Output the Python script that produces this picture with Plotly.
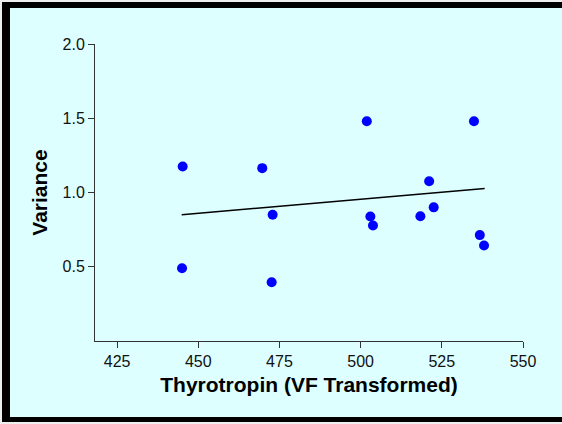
import plotly.graph_objects as go

# Data
thyrotropin = [445.2, 469.7, 472.9, 445.0, 472.6, 501.9, 534.9, 521.1,
               503.0, 503.8, 518.4, 522.5, 536.7, 538.0]
variance = [1.175, 1.164, 0.85, 0.49, 0.396, 1.48, 1.48, 1.076,
            0.838, 0.778, 0.84, 0.90, 0.713, 0.643]
fit_x = [444.9, 538.2]
fit_y = [0.85, 1.027]
x_ticks = [425, 450, 475, 500, 525, 550]
y_ticks = [0.5, 1.0, 1.5, 2.0]
y_tick_labels = ["0.5", "1.0", "1.5", "2.0"]

W, H = 562, 424
L, R, T, B = 95, 39, 44, 83
PW, PH = W - L - R, H - T - B


def px(x):
    return (x - L) / PW


def py(y):
    return 1 - (y - T) / PH


BG = "#ddffff"
FONT = "Liberation Sans, Arial, sans-serif"

fig = go.Figure()
fig.add_trace(go.Scatter(x=fit_x, y=fit_y, mode="lines",
                         line=dict(color="black", width=1.5),
                         showlegend=False, hoverinfo="skip"))
fig.add_trace(go.Scatter(x=thyrotropin, y=variance, mode="markers",
                         marker=dict(color="#0000ff", size=10, line=dict(width=0)),
                         showlegend=False))

shapes = []
# outer light strips
shapes.append(dict(type="rect", xref="paper", yref="paper", x0=px(0), x1=px(W), y0=py(0), y1=py(2),
                   fillcolor="#eeeeee", line=dict(width=0), layer="below"))
shapes.append(dict(type="rect", xref="paper", yref="paper", x0=px(0), x1=px(2), y0=py(0), y1=py(H),
                   fillcolor="#eeeeee", line=dict(width=0), layer="below"))
shapes.append(dict(type="rect", xref="paper", yref="paper", x0=px(0), x1=px(W), y0=py(422), y1=py(H),
                   fillcolor="#eeeeee", line=dict(width=0), layer="below"))
# black frame (left, top, bottom)
shapes.append(dict(type="rect", xref="paper", yref="paper", x0=px(2), x1=px(W), y0=py(2), y1=py(8),
                   fillcolor="black", line=dict(width=0), layer="below"))
shapes.append(dict(type="rect", xref="paper", yref="paper", x0=px(2), x1=px(10), y0=py(2), y1=py(422),
                   fillcolor="black", line=dict(width=0), layer="below"))
shapes.append(dict(type="rect", xref="paper", yref="paper", x0=px(2), x1=px(W), y0=py(417), y1=py(422),
                   fillcolor="black", line=dict(width=0), layer="below"))

fig.update_layout(
    width=W, height=H,
    margin=dict(l=L, r=R, t=T, b=B, pad=0),
    paper_bgcolor=BG, plot_bgcolor=BG,
    font=dict(family=FONT, color="#111111", size=16),
    shapes=shapes,
    xaxis=dict(range=[418.2, 550], tickvals=x_ticks, ticks="outside", ticklen=6,
               tickcolor="#333333", showline=True, linecolor="#333333", linewidth=1,
               showgrid=False, zeroline=False,
               tickfont=dict(size=16, family=FONT, color="#111111"),
               title=dict(text="<b>Thyrotropin (VF Transformed)</b>", standoff=8,
                          font=dict(size=21, family=FONT, color="black"))),
    yaxis=dict(range=[0, 2], tickvals=y_ticks, ticktext=y_tick_labels, ticks="outside", ticklen=6,
               tickcolor="#333333", showline=True, linecolor="#333333", linewidth=1,
               showgrid=False, zeroline=False,
               tickfont=dict(size=16, family=FONT, color="#111111"),
               title=dict(text="<b>Variance</b>", standoff=9,
                          font=dict(size=21, family=FONT, color="black"))),
)

fig.write_html("out.html")
